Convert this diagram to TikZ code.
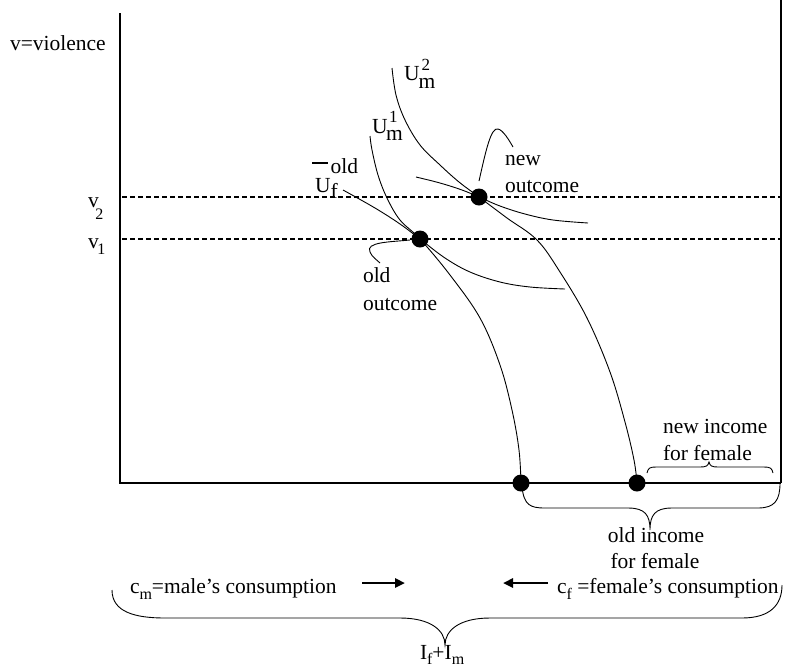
\documentclass[tikz,border=0pt]{standalone}
\usepackage{fontspec}
\setmainfont{Liberation Serif}
\usetikzlibrary{arrows.meta}
\newcommand\lblfont{\fontsize{21.5}{27}\selectfont}
\newcommand\smlfont{\fontsize{16}{16}\selectfont}
\newcommand\digfont{\fontsize{17}{17}\selectfont}
\tikzset{
  lab/.style={anchor=base west, inner sep=0pt, outer sep=0pt, font=\lblfont},
  dotnode/.style={circle, fill=black, minimum size=17pt, inner sep=0pt},
  axisline/.style={line width=1.1pt},
  curve/.style={line width=0.9pt},
  guide/.style={dash pattern=on 5pt off 3pt, line width=1.8pt},
  bracepath/.style={line width=0.9pt},
  thickarrow/.style={line width=2.6pt, -{Triangle[length=10pt,width=9pt]}}
}
\begin{document}
\begin{tikzpicture}[x=1pt,y=-1pt]
\useasboundingbox (0,0) rectangle (787,665);
% axes and frame
\draw[axisline] (120,13) -- (120,483) -- (781,483);
\draw[axisline] (781,0) -- (781,483);
% dashed guide lines
\draw[guide] (122,197) -- (780,197);
\draw[guide] (122,239) -- (780,239);
% male indifference curves / frontier
\draw[curve] plot[smooth, tension=0.6] coordinates {(370,136) (372,150) (378,175) (387,198) (400,220) (420,239) (450,275) (480,318) (500,365) (512,410) (519,450) (521,483)};
\draw[curve] plot[smooth, tension=0.6] coordinates {(392,68) (396,95) (405,120) (420,145) (440,165) (459,182) (479,197) (507,218) (537,240) (560,272) (587,318) (610,372) (625,422) (634,460) (637,483)};
% female indifference curves
\draw[curve] plot[smooth, tension=0.6] coordinates {(343,190) (375,208) (400,224) (420,239) (445,258) (470,272) (500,282) (530,287) (565,289)};
\draw[curve] plot[smooth, tension=0.6] coordinates {(416,177) (440,183) (462,190) (479,197) (500,206) (525,214) (553,220) (588,223)};
% dots
\node[dotnode] (oldout) at (420,239) {};
\node[dotnode] (newout) at (479,197) {};
\node[dotnode] (oldinc) at (521,483) {};
\node[dotnode] (newinc) at (637,483) {};
% labels
\node[lab] (vaxis) at (10,50) {v=violence};
\node[lab] (vtwo) at (88,207) {v\kern-3.5pt\raisebox{-12pt}{\smlfont 2}};
\node[lab] (vone) at (88,248) {v\kern-1.5pt\raisebox{-6pt}{\smlfont 1}};
\node[lab] (umtwo) at (404,80) {U\kern2pt\rlap{\raisebox{10pt}{\digfont 2}}\kern-3pt\raisebox{-8pt}{m}};
\node[lab] (umone) at (372,133) {U\kern1.5pt\rlap{\raisebox{11pt}{\digfont 1}}\kern-3pt\raisebox{-7pt}{m}};
\node[lab] (uf) at (315,192) {U\rlap{\raisebox{19pt}{old}}\raisebox{-6pt}{f}};
\draw[line width=1.1pt] (312,163) -- (328,163);
\node[lab] (newa) at (505,165) {new};
\node[lab] (newb) at (505,192) {outcome};
\node[lab] (olda) at (363,282) {old};
\node[lab] (oldb) at (363,310) {outcome};
\node[lab] (nia) at (663,433) {new income};
\node[lab] (nib) at (663,460) {for female};
\node[lab, anchor=base] (oia) at (656,542) {old income};
\node[lab, anchor=base] (oib) at (655,568) {for female};
\node[lab] (cm) at (130,593) {c\raisebox{-6pt}{\smlfont m}=male’s consumption};
\node[lab] (cf) at (557,593) {c\raisebox{-6pt}{\smlfont f} =female’s consumption};
\node[lab] (total) at (420,659) {I\raisebox{-5pt}{\smlfont f}+I\raisebox{-5pt}{\smlfont m}};
% leader lines
\coordinate (nlA) at (479,181);
\coordinate (nlB) at (513,147);
\draw[curve] (nlA) .. controls (486,150) and (491,127) .. (498,129) .. controls (503,130) and (509,140) .. (nlB);
\coordinate (olA) at (410,240);
\coordinate (olB) at (380,263);
\draw[curve] (olA) .. controls (390,242) and (365,242) .. (370,252) .. controls (372,257) and (377,260) .. (olB);
% arrows
\coordinate (ra1) at (362,583);
\coordinate (ra2) at (405,583);
\coordinate (la1) at (548,583);
\coordinate (la2) at (503,583);
\draw[thickarrow] (ra1) -- (ra2);
\draw[thickarrow] (la1) -- (la2);
% braces
\draw[bracepath] (647,473) .. controls (648,468) and (650,467) .. (656,467) -- (700,467) .. controls (706,467) and (708,466) .. (709,462) .. controls (710,466) and (712,467) .. (718,467) -- (764,467) .. controls (770,467) and (772,468) .. (773,473);
\draw[bracepath] (522,487) .. controls (524,505) and (530,508) .. (545,508) -- (628,508) .. controls (645,508) and (650,515) .. (650,530) .. controls (650,515) and (655,508) .. (672,508) -- (758,508) .. controls (775,508) and (780,500) .. (780,483);
\draw[bracepath] (112,590) .. controls (112,612) and (135,618) .. (165,618) -- (400,618) .. controls (430,618) and (445,630) .. (445,645) .. controls (445,630) and (460,618) .. (490,618) -- (742,618) .. controls (770,618) and (782,605) .. (782,585);
\end{tikzpicture}
\end{document}
